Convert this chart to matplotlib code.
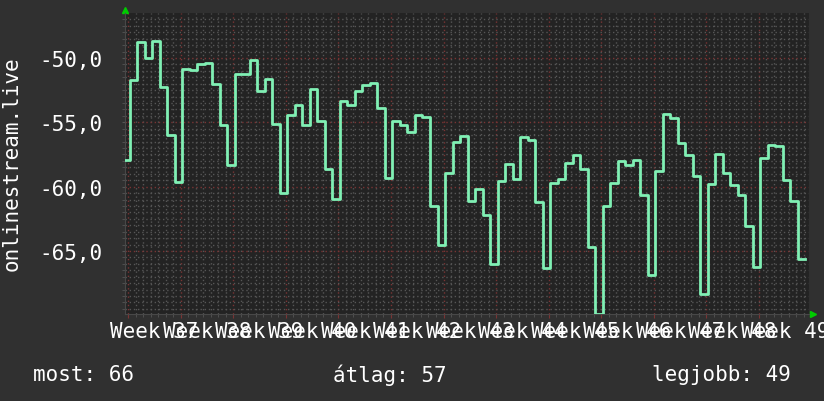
import numpy as np
import matplotlib
matplotlib.use("Agg")
import matplotlib.pyplot as plt

# napi értékek (utolsó 91 nap), az első lépés csak részben látszik
values = [
    -57.9, -51.74, -48.79, -49.98, -48.71, -52.28, -56.0, -59.64, -50.88, -50.96,
    -50.49, -50.41, -52.0, -55.24, -58.35, -51.22, -51.22, -50.13, -52.6, -51.66,
    -55.1, -60.47, -54.46, -53.63, -55.24, -52.39, -54.93, -58.66, -60.93, -53.37,
    -53.68, -52.6, -52.08, -51.92, -53.88, -59.3, -54.88, -55.18, -55.78, -54.4,
    -54.6, -61.53, -64.5, -58.95, -56.53, -56.09, -61.09, -60.16, -62.18, -65.98,
    -59.53, -58.27, -59.38, -56.17, -56.4, -61.22, -66.31, -59.71, -59.43, -58.19,
    -57.57, -58.66, -64.68, -69.87, -61.53, -59.71, -57.98, -58.35, -57.9, -60.62,
    -66.84, -58.81, -54.33, -54.66, -56.58, -57.57, -59.14, -68.32, -59.82, -57.44,
    -58.97, -59.9, -60.62, -63.03, -66.27, -57.75, -56.79, -56.87, -59.46, -61.09,
    -65.65,
]
week_labels = [f"Week {w}" for w in range(37, 50)]
yticks = [-65, -60, -55, -50]
ytick_labels = ["-65,0", "-60,0", "-55,0", "-50,0"]
ylabel = "onlinestream.live"
stats = ["most: 66", "átlag: 57", "legjobb: 49"]

BG = "#303030"
PLOT_BG = "#232323"
LINE = "#80f0b4"
TXT = "#ffffff"
FONT = "DejaVu Sans Mono"
FS = 15

plt.rcParams["font.family"] = FONT

W, H = 824, 402
fig = plt.figure(figsize=(W / 100, H / 100), dpi=100, facecolor=BG)
ax = fig.add_axes([125 / W, (H - 315) / H, 684 / W, 301 / H])
ax.set_facecolor(PLOT_BG)

# lépcsős vonal: k-adik nap kezdete 0.2 + (k-1) nap
starts = 0.2 + np.arange(len(values)) - 1
xs = np.append(starts, starts[-1] + 1)
ys = np.append(values, values[-1])
ax.plot(xs, ys, drawstyle="steps-post", color=LINE, lw=2.0, zorder=3)

ax.set_xlim(-0.44, 90.7)
ax.set_ylim(-69.9, -46.5)

# rács
n_weeks = len(week_labels)
ax.set_xticks([7 * k for k in range(n_weeks)])
ax.set_xticklabels([""] * n_weeks)
ax.set_xticks(np.arange(0, 91, 1), minor=True)
ax.set_yticks(yticks)
ax.set_yticklabels(ytick_labels, color=TXT, fontsize=FS)
ax.set_yticks(np.arange(-69.5, -46.5, 0.5), minor=True)

ax.grid(which="minor", color="#565656", lw=1, ls=(0, (1, 2)))
ax.grid(which="major", color="#7a3434", lw=1, ls=(0, (1, 2)))
ax.tick_params(which="both", axis="x", length=2, direction="out", color="#555555")
ax.tick_params(which="major", axis="x", color="#7a3434", length=3)
ax.tick_params(which="both", axis="y", length=2, color="#555555", pad=14)
ax.set_axisbelow(True)

for s in ["top", "right"]:
    ax.spines[s].set_visible(False)
for s in ["left", "bottom"]:
    ax.spines[s].set_color("#484848")

for k, lab in enumerate(week_labels):
    ax.text(3.5 + 7 * k, -0.055, lab, transform=ax.get_xaxis_transform(),
            ha="center", va="center", color=TXT, fontsize=FS, clip_on=False)

# tengely nyilak
ax.plot([0], [1.01], marker="^", color="#00cc00", ms=5, transform=ax.transAxes,
        clip_on=False)
ax.plot([1.006], [0], marker=">", color="#00cc00", ms=5, transform=ax.transAxes,
        clip_on=False)

fig.text(12 / W, 1 - 164 / H, ylabel, rotation=90, ha="center", va="center",
         color=TXT, fontsize=FS)

fig.text(33 / W, 1 - 375 / H, stats[0], ha="left", va="center", color=TXT, fontsize=FS)
fig.text(333 / W, 1 - 375 / H, stats[1], ha="left", va="center", color=TXT, fontsize=FS)
fig.text(791 / W, 1 - 375 / H, stats[2], ha="right", va="center", color=TXT, fontsize=FS)

fig.savefig("out.png", dpi=100, facecolor=BG)
